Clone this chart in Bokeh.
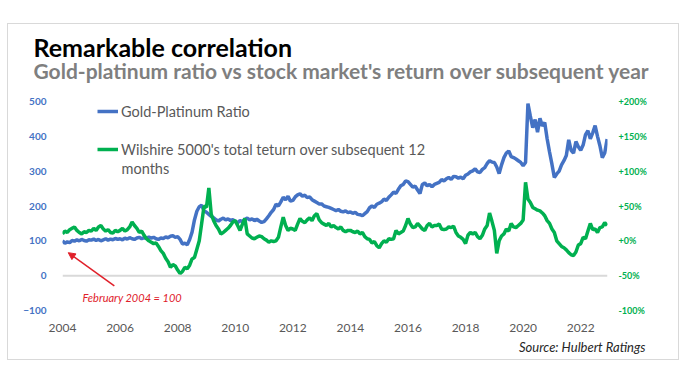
import numpy as np
from bokeh.plotting import figure
from bokeh.models import (Range1d, LinearAxis, FixedTicker, Label, Arrow, NormalHead,
                          Span, Legend, LegendItem, ColumnDataSource, Title)
from bokeh.embed import file_html
from bokeh.resources import INLINE

# ---------------- data (monthly, Jan 2004 - Dec 2022) ----------------
start_year = 2004
gold_platinum_ratio = [
    100, 93, 97, 95, 101, 99, 103, 100, 104, 101, 99, 103,        # 2004
    102, 105, 101, 104, 100, 103, 106, 102, 105, 103, 107, 104,   # 2005
    106, 103, 108, 105, 109, 106, 104, 108, 110, 106, 109, 107,   # 2006
    111, 108, 110, 106, 104, 108, 107, 111, 109, 113, 115, 110,   # 2007
    112, 104, 91, 93, 89, 104, 125, 160, 185, 198, 202, 186,      # 2008
    182, 176, 170, 166, 160, 157, 162, 165, 160, 163, 158, 161,   # 2009
    156, 152, 158, 155, 162, 165, 160, 163, 158, 162, 157, 153,   # 2010
    155, 163, 172, 182, 190, 205, 200, 212, 225, 218, 228, 214,   # 2011
    216, 226, 232, 235, 228, 231, 224, 226, 218, 214, 210, 206,   # 2012
    206, 200, 198, 196, 193, 190, 187, 190, 185, 183, 186, 181,   # 2013
    183, 179, 182, 176, 175, 172, 178, 184, 195, 200, 196, 205,   # 2014
    208, 212, 220, 216, 225, 232, 240, 236, 248, 258, 262, 272,   # 2015
    270, 262, 254, 257, 246, 236, 262, 266, 258, 262, 255, 262,   # 2016
    265, 268, 276, 272, 278, 282, 276, 285, 284, 280, 283, 278,   # 2017
    288, 292, 298, 301, 307, 298, 296, 305, 310, 322, 330, 326,   # 2018
    325, 312, 293, 318, 339, 352, 358, 342, 339, 335, 330, 325,   # 2019
    316, 325, 494, 458, 425, 448, 412, 452, 430, 440, 393, 355,   # 2020
    320, 282, 292, 300, 318, 330, 345, 390, 360, 352, 385, 370,   # 2021
    360, 375, 405, 416, 393, 410, 431, 400, 373, 339, 352, 392,   # 2022
]
wilshire_next_12m_return = [
    10, 14, 12, 16, 18, 20, 15, 12, 10, 13, 12, 15,               # 2004
    14, 18, 15, 20, 22, 17, 14, 16, 12, 11, 15, 13,               # 2005
    15, 18, 14, 16, 20, 27, 22, 18, 12, 14, 8, 3,                 # 2006
    0, -2, -4, -3, -8, -14, -18, -25, -30, -38, -34, -36,         # 2007
    -42, -47, -44, -38, -40, -35, -26, -24, -12, 0, 25, 50,       # 2008
    48, 76, 38, 29, 22, 17, 10, 12, 15, 18, 22, 27,               # 2009
    29, 22, 15, 24, 32, 10, 7, 4, 3, 5, 7, 6,                     # 2010
    3, 1, -2, 0, -1, 0, 5, 20, 34, 22, 15, 18,                    # 2011
    17, 15, 24, 32, 28, 26, 30, 33, 29, 36, 39, 30,               # 2012
    26, 24, 22, 25, 20, 22, 19, 17, 20, 15, 13, 15,               # 2013
    15, 13, 12, 14, 10, 12, 6, 3, 2, -3, -1, -7,                  # 2014
    -10, -4, 0, -2, 3, 2, 3, 15, 10, 12, 14, 22,                  # 2015
    32, 24, 19, 20, 25, 21, 17, 15, 22, 25, 20, 22,               # 2016
    22, 24, 17, 16, 17, 20, 19, 21, 12, 7, 5, 2,                  # 2017
    -4, 8, 12, 10, 12, 6, 3, 8, 17, 22, 40, 28,                   # 2018
    15, -18, 0, 7, 10, 17, 14, 25, 20, 19, 22, 25,                # 2019
    30, 84, 60, 55, 48, 46, 44, 43, 40, 36, 29, 25,               # 2020
    17, 12, 0, -4, -8, -10, -13, -17, -20, -21, -16, -6,          # 2021
    -4, 5, 3, 14, 25, 16, 17, 12, 19, 20, 26, 22,                 # 2022
]
year_ticks = [2004, 2006, 2008, 2010, 2012, 2014, 2016, 2018, 2020, 2022]
left_ticks = [-100, 0, 100, 200, 300, 400, 500]
right_ticks = [-100, -50, 0, 50, 100, 150, 200]
right_tick_labels = ["-100%", "-50%", "+0%", "+50%", "+100%", "+150%", "+200%"]

title_text = "Remarkable correlation"
subtitle_text = "Gold-platinum ratio vs stock market's return over subsequent year"
legend_labels = ["Gold-Platinum Ratio",
                 "Wilshire 5000's total teturn over subsequent 12"]
legend_wrap = "months"
note_text = "February 2004 = 100"
source_text = "Source: Hulbert Ratings"

# ---------------- build ----------------
n = len(gold_platinum_ratio)
dates = start_year + np.arange(n) / 12.0
src = ColumnDataSource(dict(x=dates, ratio=gold_platinum_ratio,
                            ret=wilshire_next_12m_return))

BLUE = "#4472C4"
GREEN = "#00B050"
RED = "#e0202a"
FONT = "Lato"

p = figure(width=672, height=337, output_backend="svg", toolbar_location=None,
           x_range=Range1d(2004, 2022.93), y_range=Range1d(-100, 500),
           min_border_left=54, min_border_right=73, min_border_top=77,
           min_border_bottom=51)
p.margin = (23, 0, 0, 7)
p.styles = {"border": "1px solid #d9d9d9"}
p.outline_line_color = None
p.xgrid.visible = False
p.ygrid.visible = False
p.extra_y_ranges = {"pct": Range1d(-100, 200)}

# axes
xa = p.xaxis[0]
xa.ticker = FixedTicker(ticks=year_ticks)
xa.axis_line_color = None
xa.major_tick_line_color = None
xa.minor_tick_line_color = None
xa.major_label_standoff = 7
xa.major_label_text_font = FONT
xa.major_label_text_font_size = "12px"
xa.major_label_text_color = "#595959"

ya = p.yaxis[0]
ya.ticker = FixedTicker(ticks=left_ticks)
ya.axis_line_color = None
ya.major_tick_line_color = None
ya.minor_tick_line_color = None
ya.major_label_standoff = 10
ya.major_label_text_font = FONT
ya.major_label_text_font_style = "bold"
ya.major_label_text_font_size = "10px"
ya.major_label_text_color = BLUE

ra = LinearAxis(y_range_name="pct", ticker=FixedTicker(ticks=right_ticks),
                major_label_overrides={t: l for t, l in zip(right_ticks, right_tick_labels)})
ra.axis_line_color = None
ra.major_tick_line_color = None
ra.minor_tick_line_color = None
ra.major_label_standoff = 5
ra.major_label_text_font = FONT
ra.major_label_text_font_style = "bold"
ra.major_label_text_font_size = "9px"
ra.major_label_text_color = GREEN
p.add_layout(ra, "right")

# zero line
p.add_layout(Span(location=0, dimension="width", line_color="#d9d9d9", line_width=2))

# series
r1 = p.line("x", "ratio", source=src, line_color=BLUE, line_width=3.5)
r2 = p.line("x", "ret", source=src, line_color=GREEN, line_width=3.5, y_range_name="pct")

legend = Legend(items=[LegendItem(label=legend_labels[0], renderers=[r1]),
                       LegendItem(label=legend_labels[1], renderers=[r2])],
                location=(35, 151), orientation="vertical",
                background_fill_alpha=0, border_line_color=None,
                padding=0, margin=0, spacing=18, glyph_width=21, glyph_height=20,
                label_standoff=3, label_height=20,
                label_text_font=FONT, label_text_font_size="14.5px",
                label_text_color="#595959")
p.add_layout(legend)
p.add_layout(Label(x=59, y=142, x_units="screen", y_units="screen", text=legend_wrap,
                   text_font=FONT, text_font_size="14.5px", text_color="#595959",
                   text_baseline="middle"))

# titles (stacked upward from the plot frame: spacer, subtitle, then title on top)
p.add_layout(Title(text=" ", align="left", standoff=13.5,
                   text_font=FONT, text_font_size="10px"), "above")
p.add_layout(Title(text=subtitle_text, align="left", offset=-29, standoff=-18,
                   text_font=FONT, text_font_style="bold", text_font_size="21px",
                   text_color="#7f7f7f"), "above")
p.title.text = title_text
p.title.align = "left"
p.title.offset = -29
p.title.standoff = 6
p.title.text_font = FONT
p.title.text_font_style = "bold"
p.title.text_font_size = "25px"
p.title.text_color = "#000000"
p.add_layout(Title(text=source_text, align="right", offset=-38, standoff=4,
                   text_font=FONT, text_font_style="italic", text_font_size="13px",
                   text_color="#262626"), "below")

# annotation
p.add_layout(Arrow(x_start=2005.8, y_start=-29, x_end=2004.2, y_end=66,
                   line_color=RED, line_width=1.5,
                   end=NormalHead(size=7, line_color=RED, fill_color=RED)))
p.add_layout(Label(x=20, y=13, x_units="screen", y_units="screen", text=note_text,
                   text_font=FONT, text_font_style="italic", text_font_size="11px",
                   text_color=RED, text_baseline="middle"))

open("out.html", "w").write(file_html(p, INLINE))
